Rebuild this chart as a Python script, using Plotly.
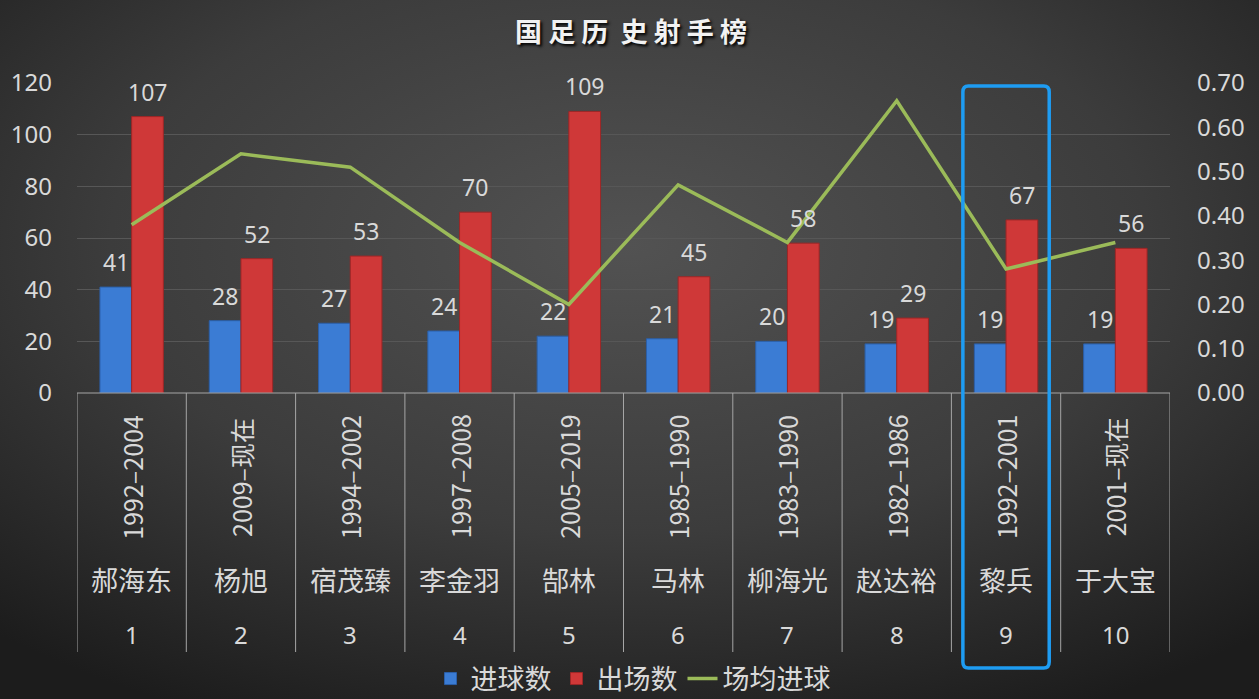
import base64
import plotly.graph_objects as go

# ---------------- data ----------------
ranks = ["1", "2", "3", "4", "5", "6", "7", "8", "9", "10"]
names = ["郝海东", "杨旭", "宿茂臻", "李金羽", "郜林", "马林", "柳海光", "赵达裕", "黎兵", "于大宝"]
years = ["1992–2004", "2009–现在", "1994–2002", "1997–2008", "2005–2019",
         "1985–1990", "1983–1990", "1982–1986", "1992–2001", "2001–现在"]
goals = [41, 28, 27, 24, 22, 21, 20, 19, 19, 19]
apps = [107, 52, 53, 70, 109, 45, 58, 29, 67, 56]
ratio = [0.38, 0.54, 0.51, 0.34, 0.20, 0.47, 0.34, 0.66, 0.28, 0.34]
left_ticks = [0, 20, 40, 60, 80, 100, 120]
right_ticks = [0.0, 0.1, 0.2, 0.3, 0.4, 0.5, 0.6, 0.7]
highlight_index = 8

# ---------------- style ----------------
W, H = 1259, 699
ML, MR, MT, MB = 77, 89, 83, 306
PW, PH = W - ML - MR, H - MT - MB
TXT = "#d9d9d9"
FONT = "Noto Sans, Noto Sans CJK SC, sans-serif"
CJK = "Noto Sans CJK SC, Noto Sans, sans-serif"
BLUE = "#3b7cd4"
RED = "#cf3838"
GREEN = "#9bbb59"

def py(px):
    """pixel y (from top) -> paper y"""
    return (H - MB - px) / PH

x = list(range(len(ranks)))

fig = go.Figure()
fig.add_trace(go.Bar(x=x, y=goals, name="进球数", marker=dict(color=BLUE, line=dict(color="#2b5fa8", width=1))))
fig.add_trace(go.Bar(x=x, y=apps, name="出场数", marker=dict(color=RED, line=dict(color="#9e2626", width=1))))
fig.add_trace(go.Scatter(x=x, y=ratio, name="场均进球", mode="lines", yaxis="y2",
                         line=dict(color=GREEN, width=3.5)))

annotations = []
# data labels
off = 0.145
for i in x:
    annotations.append(dict(x=i - off, y=goals[i], xref="x", yref="y", text=str(goals[i]),
                            showarrow=False, xanchor="center", yanchor="bottom", yshift=7,
                            font=dict(family=FONT, size=23, color=TXT)))
    annotations.append(dict(x=i + off, y=apps[i], xref="x", yref="y", text=str(apps[i]),
                            showarrow=False, xanchor="center", yanchor="bottom", yshift=7,
                            font=dict(family=FONT, size=23, color=TXT)))
# category table labels
for i in x:
    annotations.append(dict(x=i, y=py(477), xref="x", yref="paper", text=years[i], textangle=-90,
                            showarrow=False, xanchor="center", yanchor="middle",
                            font=dict(family=CJK, size=25, color=TXT)))
    annotations.append(dict(x=i, y=py(579), xref="x", yref="paper", text=names[i],
                            showarrow=False, xanchor="center", yanchor="middle",
                            font=dict(family=CJK, size=27, color=TXT)))
    annotations.append(dict(x=i, y=py(634), xref="x", yref="paper", text=ranks[i],
                            showarrow=False, xanchor="center", yanchor="middle",
                            font=dict(family=FONT, size=24, color=TXT)))

shapes = []
for k in range(len(ranks) + 1):
    shapes.append(dict(type="line", xref="x", yref="paper", x0=k - 0.5, x1=k - 0.5,
                       y0=0, y1=py(652), line=dict(color="#a6a6a6", width=1)))
shapes.append(dict(type="line", xref="paper", yref="paper", x0=0, x1=1, y0=0, y1=0,
                   line=dict(color="#a6a6a6", width=1)))

# highlight box (rounded rectangle) around one category
h = highlight_index
hx0, hx1 = h - 0.395, h + 0.395
hy0, hy1 = py(668), py(86)
rx, ry = 0.05, 6 / PH
path = (f"M {hx0+rx},{hy1} L {hx1-rx},{hy1} Q {hx1},{hy1} {hx1},{hy1-ry} "
        f"L {hx1},{hy0+ry} Q {hx1},{hy0} {hx1-rx},{hy0} L {hx0+rx},{hy0} "
        f"Q {hx0},{hy0} {hx0},{hy0+ry} L {hx0},{hy1-ry} Q {hx0},{hy1} {hx0+rx},{hy1} Z")
shapes.append(dict(type="path", xref="x", yref="paper", path=path,
                   line=dict(color="#1e9cf2", width=3.5), layer="above"))

# radial gradient background
svg = (f'<svg xmlns="http://www.w3.org/2000/svg" width="{W}" height="{H}">'
       '<defs><radialGradient id="g" cx="50%" cy="35%" r="75%">'
       '<stop offset="0" stop-color="#525252"/><stop offset="0.55" stop-color="#3c3c3c"/>'
       '<stop offset="1" stop-color="#1c1c1c"/></radialGradient></defs>'
       f'<rect width="{W}" height="{H}" fill="url(#g)"/></svg>')
src = "data:image/svg+xml;base64," + base64.b64encode(svg.encode()).decode()

fig.update_layout(
    width=W, height=H,
    margin=dict(l=ML, r=MR, t=MT, b=MB, autoexpand=False),
    paper_bgcolor="#2e2e2e",
    plot_bgcolor="rgba(0,0,0,0)",
    images=[dict(source=src, xref="paper", yref="paper", x=-ML / PW, y=1 + MT / PH,
                 sizex=W / PW, sizey=H / PH, sizing="stretch", layer="below", xanchor="left", yanchor="top")],
    barmode="group", bargap=0.42, bargroupgap=0,
    title=dict(text="国 足 历  史 射 手 榜", x=631 / W, xanchor="center", y=1 - 33 / H, yanchor="middle",
               font=dict(family=CJK, size=27, color="#f2f2f2", weight="bold", shadow="2px 2px 3px #000")),
    xaxis=dict(range=[-0.5, len(ranks) - 0.5], showticklabels=False, showgrid=False, zeroline=False,
               showline=False, ticks=""),
    yaxis=dict(range=[0, 120], tickvals=left_ticks, showgrid=True, gridcolor="#575757", gridwidth=1,
               zeroline=False, showline=False, ticks="", ticklabelstandoff=24,
               tickfont=dict(family=FONT, size=24, color=TXT)),
    yaxis2=dict(range=[0, 0.7], tickvals=right_ticks, tickformat=".2f", overlaying="y", side="right",
                showgrid=False, zeroline=False, showline=False, ticks="", ticklabelstandoff=26,
                tickfont=dict(family=FONT, size=24, color=TXT)),
    legend=dict(orientation="h", x=(633 - ML) / PW, xanchor="center", y=py(679), yanchor="middle",
                font=dict(family=CJK, size=27, color=TXT), bgcolor="rgba(0,0,0,0)",
                itemwidth=30, tracegroupgap=0),
    annotations=annotations,
    shapes=shapes,
    showlegend=True,
)

fig.write_html("out.html", config={"displayModeBar": False},
               post_script="document.body.style.margin='0';document.body.style.overflow='hidden';")
